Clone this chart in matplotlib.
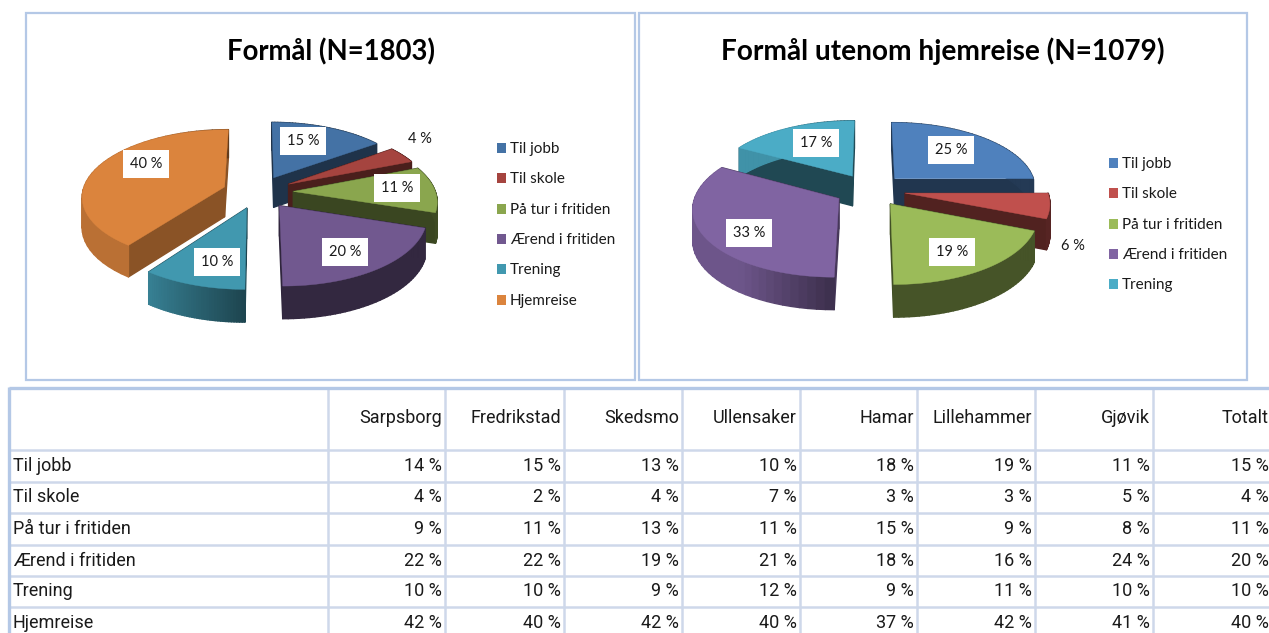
#!/usr/bin/env python3
import numpy as np
import matplotlib
matplotlib.use("Agg")
import matplotlib.pyplot as plt
from matplotlib.collections import PolyCollection
from matplotlib.patches import Rectangle

W, H = 1269, 633

labels_all = ["Til jobb", "Til skole", "På tur i fritiden", "Ærend i fritiden", "Trening", "Hjemreise"]
values_left = [15, 4, 11, 20, 10, 40]
values_right = [25, 6, 19, 33, 17]
title_left = "Formål (N=1803)"
title_right = "Formål utenom hjemreise (N=1079)"

table_cols = ["Sarpsborg", "Fredrikstad", "Skedsmo", "Ullensaker", "Hamar", "Lillehammer", "Gjøvik", "Totalt"]
til_jobb = [14, 15, 13, 10, 18, 19, 11, 15]
til_skole = [4, 2, 4, 7, 3, 3, 5, 4]
paa_tur = [9, 11, 13, 11, 15, 9, 8, 11]
aerend = [22, 22, 19, 21, 18, 16, 24, 20]
trening = [10, 10, 9, 12, 9, 11, 10, 10]
hjemreise = [42, 40, 42, 40, 37, 42, 41, 40]
table_rows = [til_jobb, til_skole, paa_tur, aerend, trening, hjemreise]

# styling
colors_left = ["#4472A5", "#A5443F", "#8AA64E", "#71588F", "#4198AF", "#DB843D"]
colors_right = ["#4F81BD", "#C0504D", "#9BBB59", "#8064A2", "#4BACC6"]
cut_left = [0.45, 0.45, 0.42, 0.42, 0.45, 0.63]
cut_right = [0.42, 0.42, 0.42, 0.55, 0.42]
label_pos_left = [(303, 141), (420, 139), (397, 188), (345, 252), (217, 262), (146, 164)]
label_pos_right = [(951, 150), (1073, 246), (952, 252), (749, 233), (816, 143)]
no_box_left = [1]
no_box_right = [1]

RX, RY = 142, 66     # pixels per pie unit
PERSP = 0.13         # foreshortening towards the back
DEPTH = 30           # pixels
CHART_FONT = "Lato"
TABLE_FONT = "Roboto"
GRID = "#CED8EA"
FRAME = "#B4C8E6"
TEXT = "#1A1A1A"

fig = plt.figure(figsize=(W / 100, H / 100), dpi=100, facecolor="white")


def project(x, y):
    w = 1 + PERSP * y
    return x / w, y / w, w


def shade(color, k):
    return tuple(c * k for c in matplotlib.colors.to_rgb(color))


def draw_pie(values, colors, cuts, cx, cy, explode=0.25):
    # axes placed so that one data unit is RX by RY pixels
    ax = fig.add_axes([(cx - 2 * RX) / W, 1 - (cy + 2 * RY) / H, 4 * RX / W, 4 * RY / H])
    wedges, _ = ax.pie(values, colors=colors, startangle=90, counterclock=False,
                       explode=[explode] * len(values))
    ax.set_aspect("auto")
    ax.set_xlim(-2, 2)
    ax.set_ylim(-2, 2)
    drop = DEPTH / RY

    def mid_y(i):
        return np.sin(np.radians((wedges[i].theta1 + wedges[i].theta2) / 2))

    z = 2
    for i in sorted(range(len(values)), key=mid_y, reverse=True):
        wg = wedges[i]
        wg.set_visible(False)
        t = np.radians(np.linspace(wg.theta1, wg.theta2, 40))
        ux = wg.center[0] + wg.r * np.cos(t)
        uy = wg.center[1] + wg.r * np.sin(t)
        px, py, pw = project(np.r_[wg.center[0], ux], np.r_[wg.center[1], uy])
        low = py - drop / np.sqrt(pw)

        quads, face = [], []
        # flat cut faces
        for a, b in ((0, 1), (0, len(px) - 1)):
            quads.append([(px[a], py[a]), (px[b], py[b]), (px[b], low[b]), (px[a], low[a])])
            face.append(shade(colors[i], cuts[i]))
        # outer rim, lighter towards the left
        for j in range(1, len(px) - 1):
            quads.append([(px[j], py[j]), (px[j + 1], py[j + 1]), (px[j + 1], low[j + 1]), (px[j], low[j])])
            left = max(0.0, -np.cos(t[j - 1]))
            face.append(shade(colors[i], 0.45 + 0.4 * min(1.0, left / 0.6)))
        pc = PolyCollection(quads, facecolors=face, edgecolors=face, linewidths=1.0, zorder=z)
        ax.add_collection(pc)
        ax.fill(px, py, color=colors[i], lw=0.3, zorder=z + 1)
        z += 2
    ax.axis("off")


draw_pie(values_left, colors_left, cut_left, 258, 192)
draw_pie(values_right, colors_right, cut_right, 870, 190)

# overlay in pixel coordinates for frames, texts and the table
ov = fig.add_axes([0, 0, 1, 1], zorder=10)
ov.set_xlim(0, W)
ov.set_ylim(H, 0)
ov.axis("off")
ov.patch.set_alpha(0)

for x0, x1 in ((26, 635), (639, 1247)):
    ov.add_patch(Rectangle((x0, 13), x1 - x0, 367, fill=False, ec=FRAME, lw=1.6))

ov.text(331, 51.5, title_left, family=CHART_FONT, weight="bold", fontsize=19.8,
        ha="center", va="center", color="black")
ov.text(943, 51.5, title_right, family=CHART_FONT, weight="bold", fontsize=20.2,
        ha="center", va="center", color="black")


def draw_labels(values, positions, no_box):
    for i, (v, (x, y)) in enumerate(zip(values, positions)):
        box = None if i in no_box else dict(fc="white", ec="none", boxstyle="square,pad=0.45")
        ov.text(x, y, f"{v} %", family=CHART_FONT, fontsize=10.5, ha="center", va="center",
                color=TEXT, bbox=box)


draw_labels(values_left, label_pos_left, no_box_left)
draw_labels(values_right, label_pos_right, no_box_right)


def draw_legend(labels, colors, x, y0):
    for i, (lab, col) in enumerate(zip(labels, colors)):
        y = y0 + i * 30.3
        ov.add_patch(Rectangle((x, y - 5), 9, 10, fc=col, ec="none"))
        ov.text(x + 13, y + 1, lab, family=CHART_FONT, fontsize=11, ha="left", va="center", color=TEXT)


draw_legend(labels_all, colors_left, 497, 148)
draw_legend(labels_all[:5], colors_right, 1109, 163)

# table
col_edges = [9, 328, 445, 564, 682, 800, 917, 1035, 1153, 1272]
row_edges = [388, 450, 482, 513, 545, 576, 607, 639]
for x in col_edges[1:-1]:
    ov.plot([x, x], [row_edges[0], H], color=GRID, lw=1.8, solid_capstyle="butt")
for y in row_edges[1:-1]:
    ov.plot([col_edges[0], W], [y, y], color=GRID, lw=1.8, solid_capstyle="butt")
ov.plot([col_edges[0], col_edges[0]], [row_edges[0] - 1, H], color=FRAME, lw=2.4, solid_capstyle="butt")
ov.plot([col_edges[0], W], [row_edges[0], row_edges[0]], color=FRAME, lw=2.4, solid_capstyle="butt")

for j, name in enumerate(table_cols):
    ov.text(col_edges[j + 2] - 3, 418, name, family=TABLE_FONT, fontsize=13, ha="right",
            va="center", color=TEXT)
for i, row in enumerate(table_rows):
    yc = (row_edges[i + 1] + row_edges[i + 2]) / 2
    ov.text(13, yc, labels_all[i], family=TABLE_FONT, fontsize=13, ha="left", va="center", color=TEXT)
    for j, v in enumerate(row):
        ov.text(col_edges[j + 2] - 3, yc, f"{v} %", family=TABLE_FONT, fontsize=13, ha="right",
                va="center", color=TEXT)

fig.savefig("out.png", dpi=100)
